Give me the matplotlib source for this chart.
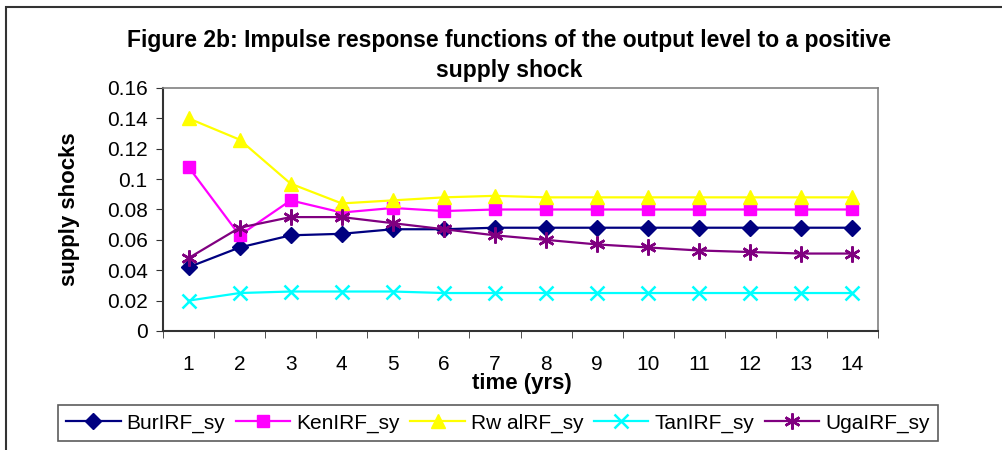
import matplotlib
matplotlib.use("Agg")
import matplotlib.pyplot as plt
from matplotlib.patches import Rectangle

plt.rcParams['font.family'] = ['Liberation Sans', 'DejaVu Sans']

# impulse responses
years = list(range(1, 15))
bur = [0.042, 0.055, 0.063, 0.064, 0.067, 0.067, 0.068, 0.068, 0.068, 0.068, 0.068, 0.068, 0.068, 0.068]
ken = [0.108, 0.063, 0.086, 0.078, 0.081, 0.079, 0.080, 0.080, 0.080, 0.080, 0.080, 0.080, 0.080, 0.080]
rwa = [0.140, 0.126, 0.097, 0.084, 0.086, 0.088, 0.089, 0.088, 0.088, 0.088, 0.088, 0.088, 0.088, 0.088]
tan = [0.020, 0.025, 0.026, 0.026, 0.026, 0.025, 0.025, 0.025, 0.025, 0.025, 0.025, 0.025, 0.025, 0.025]
uga = [0.048, 0.068, 0.075, 0.075, 0.071, 0.067, 0.063, 0.060, 0.057, 0.055, 0.053, 0.052, 0.051, 0.051]
names = ["BurIRF_sy", "KenIRF_sy", "Rw alRF_sy", "TanIRF_sy", "UgaIRF_sy"]

fig = plt.figure(figsize=(10.02, 4.5), dpi=100)
# outer chart border (only top and left visible in the crop)
fig.patches.append(Rectangle((6 / 1002, -0.1), 1.2, 1 - 7 / 450 + 0.1, transform=fig.transFigure,
                             fill=False, edgecolor="#333333", linewidth=1.5))

ax = fig.add_axes([163 / 1002, 1 - 331 / 450, 715 / 1002, 243 / 450])

styles = [
    dict(color="#000080", marker="D", markersize=8.5),
    dict(color="#FF00FF", marker="s", markersize=8.5),
    dict(color="#FFFF00", marker="^", markersize=10.5),
    dict(color="#00FFFF", marker="x", markersize=9.5, markeredgewidth=1.8),
    dict(color="#800080", marker=(6, 2, 0), markersize=11.5, markeredgewidth=1.8),
]
for vals, name, st in zip([bur, ken, rwa, tan, uga], names, styles):
    ax.plot(years, vals, label=name, linewidth=1.6, **st)

ax.set_xlim(0.5, 14.5)
ax.set_ylim(0, 0.16)
ax.set_yticks([0, 0.02, 0.04, 0.06, 0.08, 0.1, 0.12, 0.14, 0.16])
ax.set_yticklabels(["0", "0.02", "0.04", "0.06", "0.08", "0.1", "0.12", "0.14", "0.16"])
ax.set_xticks(years)
ax.set_xticks([x + 0.5 for x in range(0, 15)], minor=True)
ax.tick_params(axis="x", which="major", length=0, pad=17, labelsize=15)
ax.tick_params(axis="x", which="minor", length=5, direction="out", color="#333333")
ax.tick_params(axis="y", length=5, direction="out", pad=6, labelsize=15, color="#333333")

for s in ["top", "right"]:
    ax.spines[s].set_color("#808080")
    ax.spines[s].set_linewidth(1.2)
for s in ["left", "bottom"]:
    ax.spines[s].set_color("#333333")
    ax.spines[s].set_linewidth(1.5)

ax.set_ylabel("supply shocks", fontsize=16, fontweight="bold")
ax.yaxis.set_label_coords((80 - 163) / 715, 0.5)
fig.text(522 / 1002, 1 - 383 / 450, "time (yrs)", fontsize=16, fontweight="bold",
         ha="center", va="center")

fig.text(509 / 1002, 1 - 40 / 450, "Figure 2b: Impulse response functions of the output level to a positive",
         fontsize=16.5, fontweight="bold", ha="center", va="center")
fig.text(509 / 1002, 1 - 70 / 450, "supply shock", fontsize=16.5, fontweight="bold",
         ha="center", va="center")

leg = fig.legend(loc="lower left", bbox_to_anchor=(58 / 1002, 1 - 441 / 450, 880 / 1002, 41 / 450),
                 mode="expand", ncol=5, fontsize=15, handlelength=2.6, handletextpad=0.3,
                 borderaxespad=0, fancybox=False, frameon=True, columnspacing=0.5)
leg.get_frame().set_edgecolor("#333333")
leg.get_frame().set_linewidth(1.2)

fig.savefig("out.png", dpi=100)
